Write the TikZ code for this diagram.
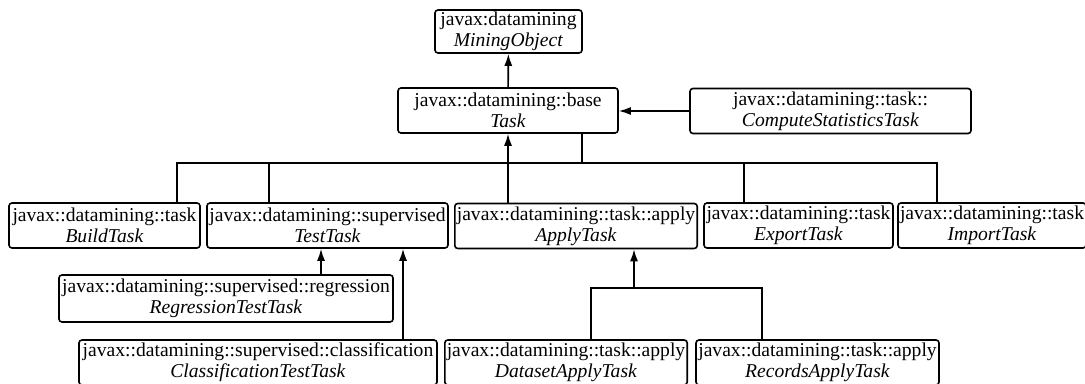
\documentclass[tikz,border=0pt]{standalone}
\usepackage{fontspec}
\setmainfont{Liberation Serif}
\usepackage{tikz}
\usetikzlibrary{arrows.meta, calc}

\tikzset{
  cls/.style={draw, line width=0.8pt, rounded corners=1.5pt, fill=white, align=center,
    inner sep=1pt, minimum height=22.5pt, font=\fontsize{9.8}{10.6}\selectfont},
  link/.style={line width=0.8pt},
  inherit/.style={line width=0.8pt, -{Latex[length=6pt,width=4pt]}}
}

\begin{document}
\begin{tikzpicture}[x=0.5pt,y=-0.5pt]
\useasboundingbox (0,0) rectangle (1085,384);
% Top of the hierarchy
\node[cls, minimum width=73.5pt, minimum height=21.5pt] (mining) at (508.5,31.5) {javax:datamining\\\textit{MiningObject}};
\node[cls, minimum width=110pt] (task) at (508,110.5) {javax::datamining::base\\\textit{Task}};
\node[cls, minimum width=140.5pt] (stats) at (830.5,111) {javax::datamining::task::\\\textit{ComputeStatisticsTask}};
% First row of tasks
\node[cls, minimum width=95.5pt] (build) at (104.5,225.5) {javax::datamining::task\\\textit{BuildTask}};
\node[cls, minimum width=120.5pt] (test) at (327.5,225.5) {javax::datamining::supervised\\\textit{TestTask}};
\node[cls, minimum width=121pt] (apply) at (576,226) {javax::datamining::task::apply\\\textit{ApplyTask}};
\node[cls, minimum width=94.5pt] (export) at (798.5,225.5) {javax::datamining::task\\\textit{ExportTask}};
\node[cls, minimum width=92pt] (import) at (992,225.5) {javax::datamining::task\\\textit{ImportTask}};
% Test tasks
\node[cls, minimum width=167pt, minimum height=23.5pt] (regtest) at (226,298.5) {javax::datamining::supervised::regression\\\textit{RegressionTestTask}};
\node[cls, minimum width=179pt] (clstest) at (258,362.5) {javax::datamining::supervised::classification\\\textit{ClassificationTestTask}};
% Apply tasks
\node[cls, minimum width=121pt] (dsapply) at (566,362.5) {javax::datamining::task::apply\\\textit{DatasetApplyTask}};
\node[cls, minimum width=121.5pt] (recapply) at (817.5,362.5) {javax::datamining::task::apply\\\textit{RecordsApplyTask}};
% Taps and joints
\coordinate (busT) at (582,163);
\coordinate (busB) at (177,163);
\coordinate (busS) at (269,163);
\coordinate (busE) at (744,163);
\coordinate (busI) at (937,163);
\coordinate (regX) at (321,0);
\coordinate (clsX) at (403,0);
\coordinate (subJ) at (634,288);
\coordinate (subD) at (591,288);
\coordinate (subR) at (762,288);
% Connectors
\draw[inherit] (task) -- (mining);
\draw[inherit] (stats.west) -- (stats.west -| task.east);
\draw[link] (task.south -| busT) -- (busT);
\draw[link] (busB |- build.north) -- (busB) -- (busI) -- (busI |- import.north);
\draw[link] (busS) -- (busS |- test.north);
\draw[link] (busE) -- (busE |- export.north);
\draw[inherit] (apply.north -| task.south) -- (task.south);
\draw[inherit] (regtest.north -| regX) -- (test.south -| regX);
\draw[inherit] (clstest.north -| clsX) -- (test.south -| clsX);
\draw[link] (dsapply.north -| subD) -- (subD) -- (subR) -- (recapply.north -| subR);
\draw[inherit] (subJ) -- (apply.south -| subJ);
\end{tikzpicture}
\end{document}
